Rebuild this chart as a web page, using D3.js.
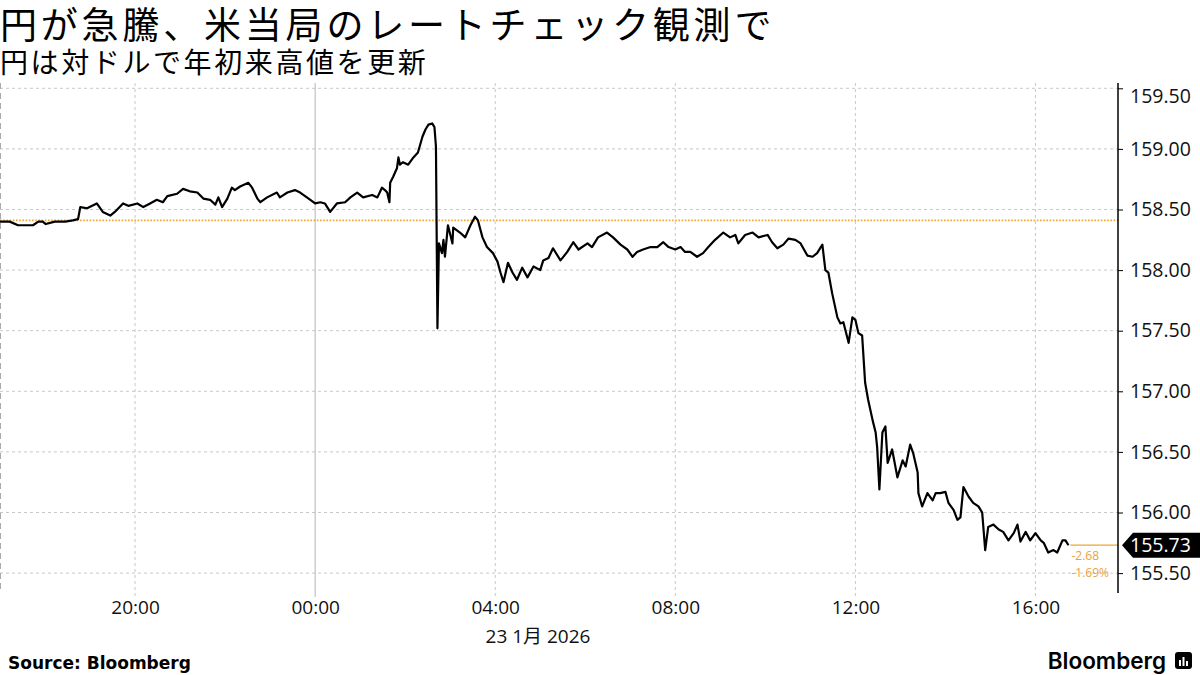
<!DOCTYPE html>
<html>
<head>
<meta charset="utf-8">
<script src="https://cdn.jsdelivr.net/npm/d3@7"></script>
<style>
  body { margin: 0; background: #fff; }
  svg { display: block; }
  .xaxis text, .yaxis text { font-family: "Open Sans", sans-serif; fill: #111; }
</style>
</head>
<body>
<div class="chart"></div>
<script>
// USD/JPY intraday, 22 Jan 17:00 -> 23 Jan 16:44 (Tokyo time)
var times = ["17:00","17:13","17:24","17:44","17:51","17:57","18:01","18:13","18:27","18:37",
  "18:44","18:47","18:56","19:09","19:17","19:27","19:33","19:44","19:51","20:03",
  "20:11","20:20","20:29","20:37","20:43","20:56","21:04","21:13","21:23","21:31",
  "21:40","21:47","21:51","21:56","22:03","22:09","22:13","22:20","22:31","22:36",
  "22:43","22:47","22:56","23:09","23:13","23:23","23:33","23:40","23:49","00:00",
  "00:07","00:13","00:20","00:29","00:40","00:47","00:56","01:04","01:16","01:23",
  "01:29","01:33","01:36","01:39","01:40","01:44","01:49","01:51","01:53","01:57",
  "02:04","02:11","02:17","02:23","02:27","02:31","02:36","02:39","02:41","02:43",
  "02:45","02:49","02:51","02:53","02:57","03:03","03:04","03:13","03:20","03:27",
  "03:33","03:37","03:43","03:49","03:57","04:03","04:07","04:11","04:17","04:23",
  "04:29","04:36","04:43","04:51","05:00","05:04","05:11","05:17","05:27","05:36",
  "05:44","05:51","06:03","06:09","06:17","06:29","06:37","06:47","06:56","07:03",
  "07:09","07:17","07:27","07:36","07:44","07:51","08:00","08:07","08:13","08:20",
  "08:29","08:37","08:44","08:53","09:04","09:13","09:20","09:24","09:33","09:43",
  "09:51","10:03","10:09","10:16","10:24","10:31","10:40","10:47","10:56","11:03",
  "11:09","11:16","11:20","11:24","11:29","11:36","11:40","11:44","11:51","11:56",
  "12:00","12:04","12:09","12:13","12:17","12:23","12:27","12:29","12:32","12:36",
  "12:40","12:43","12:49","12:56","13:03","13:07","13:13","13:17","13:23","13:24",
  "13:29","13:36","13:43","13:47","13:53","14:00","14:04","14:11","14:16","14:20",
  "14:24","14:31","14:37","14:44","14:49","14:53","14:57","15:04","15:11","15:17",
  "15:24","15:31","15:36","15:40","15:47","15:53","16:00","16:07","16:11","16:17",
  "16:24","16:29","16:36","16:40","16:44"];

var usdJpy = [158.40,158.40,158.37,158.37,158.40,158.40,158.38,158.40,158.40,158.41,
  158.42,158.52,158.51,158.55,158.48,158.45,158.48,158.55,158.53,158.55,
  158.52,158.55,158.58,158.56,158.61,158.63,158.67,158.65,158.64,158.59,
  158.58,158.54,158.60,158.52,158.59,158.68,158.66,158.69,158.72,158.68,
  158.59,158.56,158.60,158.64,158.60,158.64,158.66,158.64,158.60,158.55,
  158.56,158.55,158.48,158.55,158.56,158.60,158.64,158.60,158.62,158.60,
  158.68,158.66,158.64,158.56,158.72,158.77,158.84,158.93,158.87,158.89,
  158.87,158.93,158.97,159.10,159.16,159.20,159.21,159.18,159.02,157.52,
  158.22,158.14,158.25,158.11,158.37,158.22,158.35,158.31,158.27,158.37,
  158.44,158.41,158.27,158.19,158.14,158.07,157.98,157.90,158.06,157.98,
  157.92,158.02,157.94,158.03,158.00,158.08,158.10,158.18,158.08,158.15,
  158.23,158.17,158.22,158.19,158.27,158.31,158.27,158.21,158.17,158.11,
  158.15,158.17,158.19,158.19,158.23,158.19,158.17,158.19,158.15,158.15,
  158.11,158.14,158.19,158.25,158.31,158.27,158.29,158.22,158.29,158.31,
  158.27,158.29,158.23,158.18,158.21,158.26,158.25,158.22,158.12,158.11,
  158.14,158.21,158.00,157.98,157.81,157.61,157.56,157.57,157.40,157.61,
  157.59,157.48,157.46,157.07,156.93,156.76,156.66,156.54,156.19,156.66,
  156.71,156.41,156.52,156.29,156.43,156.38,156.56,156.49,156.33,156.16,
  156.05,156.16,156.10,156.16,156.16,156.17,156.08,156.02,155.94,155.96,
  156.21,156.13,156.08,156.05,156.00,155.69,155.88,155.90,155.86,155.84,
  155.77,155.83,155.90,155.76,155.84,155.77,155.83,155.77,155.75,155.67,
  155.69,155.67,155.77,155.77,155.73];

var prevClose = 158.41;
var lastValue = 155.73;
var netChange = "-2.68";
var pctChange = "-1.69%";
var yTicks = [155.5, 156.0, 156.5, 157.0, 157.5, 158.0, 158.5, 159.0, 159.5];
var xTickHours = ["20:00", "00:00", "04:00", "08:00", "12:00", "16:00"];
var dateLabel = "23 1月 2026";

var title = "円が急騰、米当局のレートチェック観測で";
var subtitle = "円は対ドルで年初来高値を更新";

var width = 1200, height = 675;
var plot = { left: 0, right: 1118, top: 83, bottom: 593 };

// times after 17:00 belong to 22 Jan, the rest to 23 Jan
function toDate(hm) {
  var p = hm.split(":");
  var h = +p[0], m = +p[1];
  return new Date(2026, 0, h >= 17 ? 22 : 23, h, m);
}

var data = times.map(function (t, i) { return { date: toDate(t), value: usdJpy[i] }; });

var svg = d3.select(".chart").append("svg")
  .attr("width", width)
  .attr("height", height);

var x = d3.scaleTime()
  .domain([new Date(2026, 0, 22, 17, 0), new Date(2026, 0, 23, 17, 50)])
  .range([plot.left, plot.right]);

var y = d3.scaleLinear()
  .domain([155.5, 159.5])
  .range([573.1, 88.3]);

// titles
svg.append("text")
  .attr("x", 0).attr("y", 39)
  .style("font-family", "'Noto Sans CJK JP', sans-serif")
  .style("font-size", "37px")
  .style("letter-spacing", "3.8px")
  .style("fill", "#000")
  .text(title);

svg.append("text")
  .attr("x", 0).attr("y", 73)
  .style("font-family", "'Noto Sans CJK JP', sans-serif")
  .style("font-size", "28px")
  .style("letter-spacing", "2.6px")
  .style("fill", "#000")
  .text(subtitle);

// horizontal grid
svg.append("g").selectAll("line")
  .data(yTicks)
  .enter().append("line")
  .attr("x1", plot.left).attr("x2", plot.right)
  .attr("y1", d => y(d)).attr("y2", d => y(d))
  .attr("stroke", "#c8c8c8")
  .attr("stroke-dasharray", "3,3");

// vertical grid (midnight is solid)
var xTickDates = xTickHours.map(toDate);
svg.append("g").selectAll("line")
  .data(xTickDates)
  .enter().append("line")
  .attr("x1", d => x(d)).attr("x2", d => x(d))
  .attr("y1", plot.top).attr("y2", plot.bottom + 4)
  .attr("stroke", d => d.getHours() === 0 ? "#b4b4b4" : "#c8c8c8")
  .attr("stroke-dasharray", d => d.getHours() === 0 ? null : "3,3");

svg.append("line")
  .attr("x1", 0.5).attr("x2", 0.5)
  .attr("y1", plot.top).attr("y2", plot.bottom)
  .attr("stroke", "#aaa")
  .attr("stroke-dasharray", "6,4");

// x axis labels
var xAxis = d3.axisBottom(x)
  .tickValues(xTickDates)
  .tickFormat(d3.timeFormat("%H:%M"))
  .tickSize(0)
  .tickPadding(8);

svg.append("g")
  .attr("class", "xaxis")
  .attr("transform", `translate(0, ${plot.bottom})`)
  .call(xAxis)
  .call(g => g.select(".domain").remove())
  .selectAll("text")
  .style("font-size", "19px");

svg.append("text")
  .attr("x", 538).attr("y", 643)
  .attr("text-anchor", "middle")
  .style("font-family", "'Open Sans', 'Noto Sans CJK JP', sans-serif")
  .style("font-size", "19px")
  .style("fill", "#111")
  .text(dateLabel);

// previous close reference
svg.append("line")
  .attr("x1", plot.left).attr("x2", plot.right)
  .attr("y1", y(prevClose)).attr("y2", y(prevClose))
  .attr("stroke", "#f0a52c")
  .attr("stroke-width", 1.6)
  .attr("stroke-dasharray", "1.6,1.6");

// price line
var line = d3.line()
  .x(d => x(d.date))
  .y(d => y(d.value));

svg.append("path")
  .datum(data)
  .attr("d", line)
  .attr("fill", "none")
  .attr("stroke", "#000")
  .attr("stroke-width", 2.2)
  .attr("stroke-linejoin", "round");

// last value connector + change labels
var last = data[data.length - 1];
svg.append("line")
  .attr("x1", x(last.date) + 2).attr("x2", plot.right)
  .attr("y1", y(lastValue)).attr("y2", y(lastValue))
  .attr("stroke", "#f0a52c")
  .attr("stroke-width", 1.2);

svg.append("text")
  .attr("x", x(last.date) + 3).attr("y", y(lastValue) + 15)
  .style("font-family", "'Open Sans', sans-serif")
  .style("font-size", "12px")
  .style("fill", "#e9a23b")
  .text(netChange);

svg.append("text")
  .attr("x", x(last.date) + 3).attr("y", y(lastValue) + 32)
  .style("font-family", "'Open Sans', sans-serif")
  .style("font-size", "12px")
  .style("fill", "#e9a23b")
  .text(pctChange);

// y axis on the right
var yAxis = d3.axisRight(y)
  .tickValues(yTicks)
  .tickFormat(d3.format(".2f"))
  .tickSize(5)
  .tickPadding(7);

var yg = svg.append("g")
  .attr("class", "yaxis")
  .attr("transform", `translate(${plot.right}, 0)`)
  .call(yAxis);
yg.select(".domain").remove();
yg.selectAll(".tick line").attr("stroke", "#000");
yg.selectAll("text")
  .style("font-size", "19.5px")
  .attr("y", d => d === 159.5 ? 8 : 0);

svg.append("line")
  .attr("x1", plot.right).attr("x2", plot.right)
  .attr("y1", plot.top).attr("y2", plot.bottom)
  .attr("stroke", "#000")
  .attr("stroke-width", 1.5);

// last value tag
var ly = y(lastValue);
svg.append("path")
  .attr("d", `M${plot.right + 4},${ly} L${plot.right + 15},${ly - 12.5} L${width},${ly - 12.5} L${width},${ly + 12.5} L${plot.right + 15},${ly + 12.5} Z`)
  .attr("fill", "#000");

svg.append("text")
  .attr("x", plot.right + 12).attr("y", ly)
  .attr("dy", "0.35em")
  .style("font-family", "'Open Sans', sans-serif")
  .style("font-size", "19.5px")
  .style("fill", "#fff")
  .text(d3.format(".2f")(lastValue));

// footer
svg.append("text")
  .attr("x", 8).attr("y", 669)
  .style("font-family", "'DejaVu Sans', sans-serif")
  .style("font-weight", "bold")
  .style("font-size", "17px")
  .style("fill", "#000")
  .text("Source: Bloomberg");

svg.append("text")
  .attr("x", 1166).attr("y", 669)
  .attr("text-anchor", "end")
  .style("font-family", "Inter, sans-serif")
  .style("font-weight", "600")
  .style("font-size", "22.5px")
  .style("fill", "#000")
  .text("Bloomberg");

var logo = svg.append("g").attr("transform", "translate(1175, 652)");
logo.append("rect")
  .attr("width", 17).attr("height", 17).attr("rx", 3)
  .attr("fill", "#000");
[[4, 8, 6], [7.5, 5, 9], [11, 9, 5]].forEach(function (b) {
  logo.append("rect")
    .attr("x", b[0]).attr("y", b[1]).attr("width", 2).attr("height", b[2])
    .attr("fill", "#fff");
});
</script>
</body>
</html>
